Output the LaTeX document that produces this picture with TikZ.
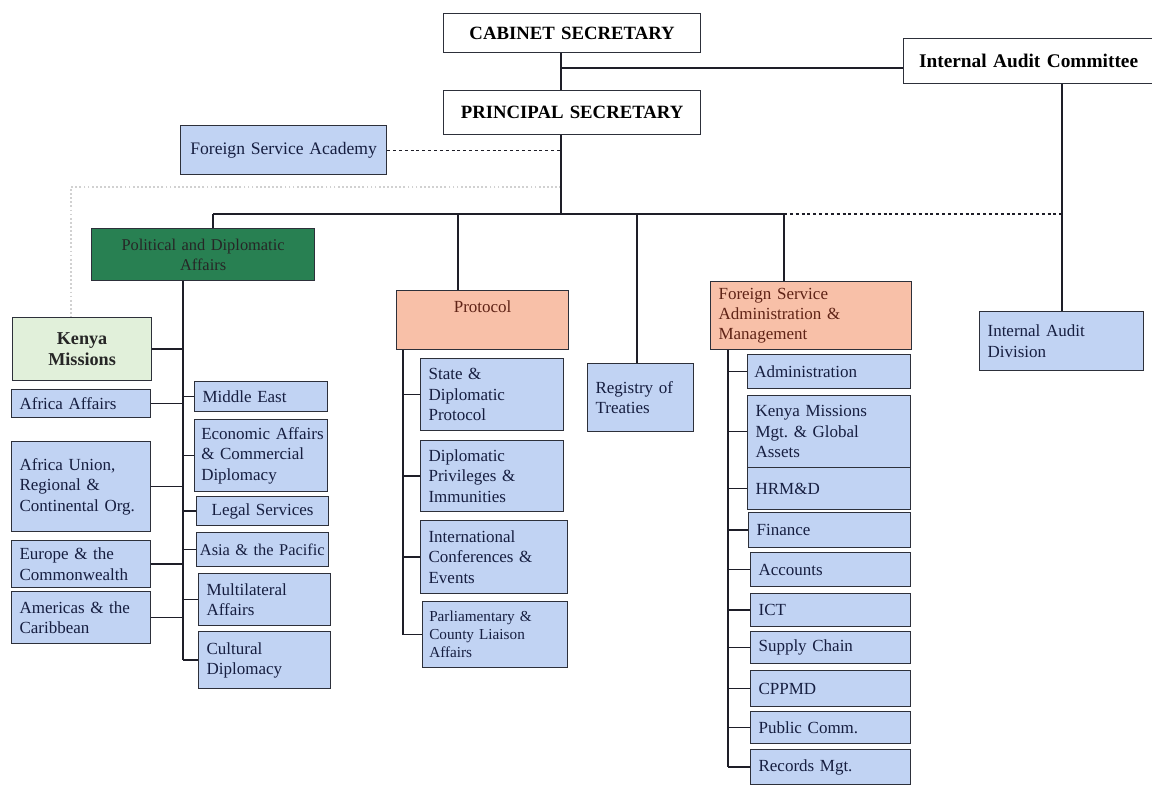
\documentclass[tikz,border=0pt]{standalone}
\usepackage{fontspec}
\setmainfont{Liberation Serif}
\frenchspacing
\definecolor{bluefill}{RGB}{193,211,243}
\definecolor{salmonfill}{RGB}{248,192,168}
\definecolor{dgreen}{RGB}{40,128,82}
\definecolor{lgreen}{RGB}{225,240,218}
\definecolor{navytext}{RGB}{22,30,64}
\definecolor{browntext}{RGB}{95,35,22}
\definecolor{edgec}{RGB}{45,48,58}
\definecolor{linec}{RGB}{30,30,40}
\newcommand\obox[7][]{%
  \node[anchor=north west,
        text width={(#5-#3)*0.03cm-0.48cm},
        minimum width={(#5-#3)*0.03cm},
        minimum height={(#6-#4)*0.03cm}, #1] (#2) at (#3,#4)
        {\hyphenpenalty=10000\exhyphenpenalty=10000\hbadness=10000 #7};}
\tikzset{
  base/.style={draw=edgec, line width=1pt, inner xsep=0.24cm, inner ysep=0pt},
  whitebox/.style={base, fill=white, text=black, align=center,
    font=\fontsize{16}{19}\selectfont\bfseries},
  bluebox/.style={base, fill=bluefill, text=navytext, align=left,
    font=\fontsize{14.5}{17.3}\selectfont},
  salmonbox/.style={base, fill=salmonfill, text=browntext, align=left,
    font=\fontsize{14.5}{17.3}\selectfont},
  darkgreenbox/.style={base, fill=dgreen, text=black!85, align=center,
    font=\fontsize{14}{17}\selectfont},
  lightgreenbox/.style={base, fill=lgreen, text=black!85, align=center,
    font=\fontsize{15.5}{18.5}\selectfont\bfseries},
  conn/.style={draw=linec, line width=1.2pt},
  dotline/.style={draw=linec, line width=1pt, dash pattern=on 2.5pt off 2.5pt},
  faintline/.style={draw=black!18, line width=0.9pt, dash pattern=on 1.5pt off 2pt},
}
\begin{document}
\begin{tikzpicture}[x=0.03cm, y=-0.03cm]
\useasboundingbox (0,0) rectangle (1152,784);
% top level
\obox[whitebox]{cs}{443}{13}{700}{52}{CABINET SECRETARY}
\obox[whitebox]{ps}{443}{90}{700}{134}{PRINCIPAL SECRETARY}
\obox[whitebox, font=\fontsize{16.5}{19}\selectfont\bfseries]{iac}{903}{38}{1153}{83}{Internal Audit Committee}
\obox[bluebox, align=center, inner xsep=0.1cm, text width={206*0.03cm-0.2cm}, font=\fontsize{15}{18}\selectfont]{fsa}{180}{125}{386}{174}{\mbox{Foreign Service Academy}}
% second level
\obox[darkgreenbox]{pda}{91}{228}{314}{280}{Political and Diplomatic\\Affairs}
\obox[salmonbox, align=center]{prot}{396}{290}{568}{349}{Protocol\\\strut}
\obox[bluebox]{reg}{587}{363}{693}{431}{Registry of\\Treaties}
\obox[salmonbox]{fsam}{710}{281}{911}{349}{Foreign Service\\\mbox{Administration \&}\\Management}
\obox[bluebox]{iad}{979}{311}{1143}{370}{Internal Audit\\Division}
% political and diplomatic children (left)
\obox[lightgreenbox]{km}{12}{317}{151}{380}{Kenya\\Missions}
\obox[bluebox]{afr}{11}{389}{150}{417}{Africa Affairs}
\obox[bluebox]{au}{11}{441}{150}{531}{Africa Union,\\Regional \&\\\mbox{Continental Org.}}
\obox[bluebox]{eu}{11}{540}{150}{587}{Europe \& the\\Commonwealth}
\obox[bluebox]{am}{11}{591}{150}{643}{Americas \& the\\Caribbean}
% political and diplomatic children (right)
\obox[bluebox]{me}{194}{381}{327}{411}{Middle East}
\obox[bluebox, inner xsep=0.2cm, text width={133*0.03cm-0.4cm}]{eca}{194}{419}{327}{491}{\mbox{Economic Affairs}\\\mbox{\& Commercial}\\Diplomacy}
\obox[bluebox, align=center]{leg}{196}{496}{328}{525}{\mbox{Legal Services}}
\obox[bluebox, inner xsep=0.1cm, text width={132*0.03cm-0.2cm}, font=\fontsize{14}{17}\selectfont]{asia}{196}{532}{328}{566}{\mbox{Asia \& the Pacific}}
\obox[bluebox]{mul}{198}{573}{330}{625}{Multilateral\\Affairs}
\obox[bluebox]{cd}{198}{631}{330}{688}{Cultural\\Diplomacy}
% protocol children
\obox[bluebox]{sdp}{420}{358}{563}{430}{State \&\\Diplomatic\\Protocol}
\obox[bluebox]{dpi}{420}{440}{563}{511}{Diplomatic\\Privileges \&\\Immunities}
\obox[bluebox]{ice}{420}{520}{567}{593}{International\\\mbox{Conferences \&}\\Events}
\obox[bluebox, font=\fontsize{13}{15.5}\selectfont, inner xsep=0.2cm, text width={145*0.03cm-0.4cm}]{pca}{422}{601}{567}{667}{\mbox{Parliamentary \&}\\County Liaison\\Affairs}
% fsam children
\obox[bluebox, inner xsep=0.2cm, text width={163*0.03cm-0.4cm}]{adm}{747}{354}{910}{388}{Administration}
\obox[bluebox]{kmg}{747}{395}{910}{467}{Kenya Missions\\Mgt. \& Global\\Assets}
\obox[bluebox]{hrm}{747}{467}{910}{509}{HRM\&D}
\obox[bluebox]{fin}{748}{512}{910}{547}{Finance}
\obox[bluebox]{acc}{750}{552}{910}{586}{Accounts}
\obox[bluebox]{ict}{750}{593}{910}{626}{ICT}
\obox[bluebox]{sup}{750}{631}{910}{663}{Supply Chain}
\obox[bluebox]{cpp}{750}{670}{910}{706}{CPPMD}
\obox[bluebox]{pub}{750}{711}{910}{743}{Public Comm.}
\obox[bluebox]{rec}{750}{749}{910}{784}{Records Mgt.}
% coordinates
\coordinate (sx) at (561,0);
\coordinate (j1) at (561,68);
\coordinate (bus) at (561,214);
\coordinate (bl) at (213,214);
\coordinate (bp) at (458,214);
\coordinate (bg) at (637,214);
\coordinate (bf) at (784,214);
\coordinate (ba) at (1062,214);
\coordinate (psp) at (183,0);
\coordinate (prp) at (403,0);
\coordinate (fsp) at (728,0);
\coordinate (fa) at (561,187);
\coordinate (fb) at (71,187);
% connectors top
\draw[faintline] (fa) -- (fb) -- (km.north -| fb);
\draw[conn] (cs.south -| sx) -- (ps.north -| sx);
\draw[conn] (j1) -- (j1 -| iac.west);
\draw[conn] (ps.south -| sx) -- (bus);
\draw[dotline] (fsa.east) -- (fsa.east -| sx);
\draw[conn] (bl) -- (bf);
\draw[dotline] (bf) -- (ba);
\draw[conn] (iac.south -| ba) -- (iad.north -| ba);
\draw[conn] (bl) -- (pda.north -| bl);
\draw[conn] (bp) -- (prot.north -| bp);
\draw[conn] (bg) -- (reg.north -| bg);
\draw[conn] (bf) -- (fsam.north -| bf);
% political spine
\draw[conn] (pda.south -| psp) -- (cd.west -| psp);
\foreach \n in {km,afr,au,eu,am} \draw[conn] (\n.east) -- (\n.east -| psp);
\foreach \n in {me,eca,leg,asia,mul,cd} \draw[conn] (\n.west) -- (\n.west -| psp);
% protocol spine
\draw[conn] (prot.south -| prp) -- (pca.west -| prp);
\foreach \n in {sdp,dpi,ice,pca} \draw[conn] (\n.west) -- (\n.west -| prp);
% fsam spine
\draw[conn] (fsam.south -| fsp) -- (rec.west -| fsp);
\foreach \n in {adm,kmg,hrm,fin,acc,ict,sup,cpp,pub,rec} \draw[conn] (\n.west) -- (\n.west -| fsp);
\end{tikzpicture}
\end{document}
